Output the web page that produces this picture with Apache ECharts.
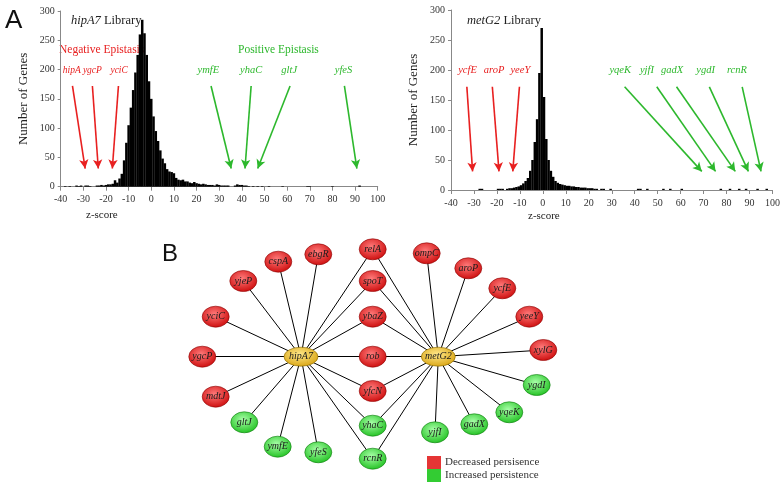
<!DOCTYPE html>
<html><head><meta charset="utf-8">
<script src="https://cdn.jsdelivr.net/npm/echarts@6/dist/echarts.min.js"></script>
<style>html,body{margin:0;padding:0;background:#fff}#c{width:783px;height:484px}</style>
</head><body><div id="c"></div>
<script>
// ---------- Panel A: histogram data ----------
const hipA7Z = [-38,-36,-33,-32,-31,-29,-28,-27,-24,-23,-22,-21,-20,-19,-18,-17,-16,-15,-14,-13,-12,-11,-10,-9,-8,-7,-6,-5,-4,-3,-2,-1,0,1,2,3,4,5,6,7,8,9,10,11,12,13,14,15,16,17,18,19,20,21,22,23,24,25,26,27,28,29,30,31,32,33,34,37,38,39,40,41,42,43,45,47,49,52,58,69,70,80,92];
const hipA7Count = [1,1,2,1,2,2,2,1,2,2,3,2,3,4,4,5,11,7,14,22,45,75,105,135,165,195,225,260,285,262,225,180,150,120,95,78,62,48,40,30,26,25,23,15,12,11,12,9,9,7,6,8,6,5,4,5,4,3,3,3,2,4,3,2,2,2,2,2,4,3,3,2,2,1,1,1,1,1,1,1,1,1,2];
const metG2Z = [-27.5,-26.5,-19.5,-18.5,-17.5,-15.5,-14.5,-13.5,-12.5,-11.5,-10.5,-9.5,-8.5,-7.5,-6.5,-5.5,-4.5,-3.5,-2.5,-1.5,-0.5,0.5,1.5,2.5,3.5,4.5,5.5,6.5,7.5,8.5,9.5,10.5,11.5,12.5,13.5,14.5,15.5,16.5,17.5,18.5,19.5,20.5,21.5,22.5,23.5,25.5,26.5,29.5,41.5,42.5,45.5,52.5,55.5,60.5,77.5,81.5,85.5,88.5,93.5,97.5];
const metG2Count = [2,2,2,2,2,2,3,3,4,5,6,8,11,15,20,32,50,80,118,195,270,155,85,50,32,22,15,12,10,9,8,7,7,6,6,5,5,4,4,4,3,3,3,2,2,2,2,2,2,2,2,2,2,2,2,2,2,2,2,2];
const xMin = -40, xMax = 100, xStep = 10;
const yMin = 0, yMax = 300, yStep = 50;

// ---------- annotations (data units) ----------
const hipA7Genes  = ['hipA','ygcP','yciC','ymfE','yhaC','gltJ','yfeS'];
const hipA7Sign   = ['neg','neg','neg','pos','pos','pos','pos'];
const hipA7LabelZ = [-35.1,-26,-14.2,25.2,44.1,60.9,84.9];
const hipA7FromZ  = [-34.8,-26,-14.5,26.4,44.1,61.3,85.3];
const hipA7ToZ    = [-29.2,-23.4,-17.2,35.3,41.4,47,90.8];
const metG2Genes  = ['ycfE','aroP','yeeY','yqeK','yjfI','gadX','ygdI','rcnR'];
const metG2Sign   = ['neg','neg','neg','pos','pos','pos','pos','pos'];
const metG2LabelZ = [-32.8,-21.2,-9.8,33.7,45.3,56.3,70.9,84.5];
const metG2FromZ  = [-33.1,-22,-10.2,35.6,49.6,58.2,72.5,86.8];
const metG2ToZ    = [-30.6,-19.1,-13.1,69.2,75.2,83.8,89.5,95];
const labelY = 199, arrowFromY = 172, arrowToY = 31;

// ---------- Panel B: network ----------
const nodeNames = ['hipA7','metG2','relA','ebgR','cspA','yjeP','yciC','ygcP','mdtJ','gltJ','ymfE','yfeS','spoT','ybaZ','rob','yfcN','yhaC','rcnR','ompC','aroP','ycfE','yeeY','xylG','ygdI','yqeK','gadX','yjfI'];
const nodeKind  = [2,2,0,0,0,0,0,0,0,1,1,1,0,0,0,0,1,1,0,0,0,0,0,1,1,1,1];
const nodeX = [301,438.3,372.7,318.3,278.3,243.3,215.7,202.3,215.7,244.3,277.7,318.3,372.7,372.7,372.7,372.7,372.7,372.7,426.7,468.3,502.3,529.3,543.3,536.7,509.3,474.3,435];
const nodeY = [356.7,356.7,249.3,254.3,261.7,281,316.7,356.7,396.7,422.3,446.7,452.3,281,316.7,356.7,391,425.7,458.7,253.3,268.3,288.3,316.7,350,385,412.3,424.3,432.3];
const hipA7Links = ['yciC','yjeP','cspA','ebgR','relA','spoT','ybaZ','ygcP','rob','mdtJ','gltJ','ymfE','yfeS','yfcN','yhaC','rcnR'];
const metG2Links = ['relA','spoT','ybaZ','rob','yfcN','yhaC','rcnR','ompC','aroP','ycfE','yeeY','xylG','ygdI','yqeK','gadX','yjfI'];
const kindNames = ['Decreased persisence','Increased persistence','hub'];

const RED = '#e82020', GREEN = '#2db82d';
const serif = 'Liberation Serif';

function grad(c0, c1) {
  return {type:'radial', x:0.45, y:0.38, r:0.65, colorStops:[{offset:0,color:c0},{offset:1,color:c1}]};
}

function histSeries(idx, zs, counts, genes, signs, lz, fz, tz, negSize, posSize) {
  const marks = [];
  const lines = [];
  genes.forEach((g, i) => {
    const neg = signs[i] === 'neg';
    const col = neg ? RED : GREEN;
    marks.push({name:g, coord:[lz[i], labelY], label:{color:col, fontSize: neg ? negSize : posSize}});
    lines.push([{coord:[fz[i], arrowFromY], lineStyle:{color:col}}, {coord:[tz[i], arrowToY]}]);
  });
  return {
    type:'bar', xAxisIndex:idx, yAxisIndex:idx,
    data: zs.map((z, i) => [z, counts[i]]),
    barWidth: 2.5, itemStyle:{color:'#000'}, silent:true,
    markPoint:{symbol:'circle', symbolSize:0, silent:true,
      label:{show:true, position:'inside', formatter:'{b}', fontFamily:serif, fontStyle:'italic', fontSize:10.5},
      data: marks},
    markLine:{silent:true, symbol:['none','arrow'], symbolSize:[7,9], label:{show:false},
      lineStyle:{width:1.6, type:'solid'}, data: lines}
  };
}

function xAx(idx) {
  return {type:'value', gridIndex:idx, min:xMin, max:xMax, interval:xStep,
    axisLine:{show:true, onZero:false, lineStyle:{color:'#888'}},
    axisTick:{show:true, length:4, lineStyle:{color:'#888'}},
    splitLine:{show:false},
    axisLabel:{fontFamily:serif, fontSize:10, color:'#333', margin:8}};
}
function yAx(idx) {
  return {type:'value', gridIndex:idx, min:yMin, max:yMax, interval:yStep,
    name:'Number of Genes', nameLocation:'middle', nameGap:31, nameRotate:90,
    nameTextStyle:{fontFamily:serif, fontSize:13, color:'#222'},
    axisLine:{show:true, onZero:false, lineStyle:{color:'#888'}},
    axisTick:{show:true, length:3, lineStyle:{color:'#888'}},
    splitLine:{show:false},
    axisLabel:{fontFamily:serif, fontSize:10, color:'#333', margin:6}};
}

const nodes = nodeNames.map((n, i) => ({
  name:n, x:nodeX[i], y:nodeY[i], category:nodeKind[i],
  symbolSize: nodeKind[i] === 2 ? [34,19] : [27,21]
}));
const links = hipA7Links.map(t => ({source:'hipA7', target:t}))
  .concat(metG2Links.map(t => ({source:'metG2', target:t})));

const minX = Math.min(...nodeX), maxX = Math.max(...nodeX);
const minY = Math.min(...nodeY), maxY = Math.max(...nodeY);

const option = {
  animation:false,
  backgroundColor:'#fff',
  title:[
    {text:'{i|hipA7} Library', left:66, top:9,
     textStyle:{fontFamily:serif, fontSize:12.5, fontWeight:'normal', color:'#222',
       rich:{i:{fontFamily:serif, fontStyle:'italic', fontSize:12.5, color:'#222'}}}},
    {text:'{i|metG2} Library', left:462, top:9,
     textStyle:{fontFamily:serif, fontSize:12.5, fontWeight:'normal', color:'#222',
       rich:{i:{fontFamily:serif, fontStyle:'italic', fontSize:12.5, color:'#222'}}}}
  ],
  grid:[
    {left:60.7, top:11, width:317, height:175.7},
    {left:451, top:10, width:325.7, height:180}
  ],
  xAxis:[xAx(0), xAx(1)],
  yAxis:[yAx(0), yAx(1)],
  legend:{
    data:[{name:kindNames[0], itemStyle:{color:'#e53535', borderWidth:0}}, {name:kindNames[1], itemStyle:{color:'#33cc33', borderWidth:0}}],
    orient:'vertical', left:427, top:456, height:40, itemWidth:14, itemHeight:13, itemGap:0, icon:'rect',
    selectedMode:false, padding:0,
    textStyle:{fontFamily:serif, fontSize:11, color:'#333', lineHeight:13, padding:[0,0,0,-1]}
  },
  graphic:[
    {type:'text', left:5, top:8, style:{text:'A', font:'26px "Liberation Sans"', fill:'#111'}},
    {type:'text', left:162, top:242, style:{text:'B', font:'24px "Liberation Sans"', fill:'#111'}},
    {type:'text', left:86, top:210, style:{text:'z-score', font:'11px "Liberation Serif"', fill:'#222'}},
    {type:'text', left:528, top:211, style:{text:'z-score', font:'11px "Liberation Serif"', fill:'#222'}},
    {type:'text', left:59, top:44, style:{text:'Negative Epistasis', font:'11.5px "Liberation Serif"', fill:RED}},
    {type:'text', left:238, top:44, style:{text:'Positive Epistasis', font:'11.5px "Liberation Serif"', fill:GREEN}}
  ],
  series:[
    histSeries(0, hipA7Z, hipA7Count, hipA7Genes, hipA7Sign, hipA7LabelZ, hipA7FromZ, hipA7ToZ, 9.5, 10.5),
    histSeries(1, metG2Z, metG2Count, metG2Genes, metG2Sign, metG2LabelZ, metG2FromZ, metG2ToZ, 10.5, 10.5),
    {
      type:'graph', layout:'none', roam:false, silent:true,
      left:minX, top:minY, width:maxX-minX, height:maxY-minY,
      symbol:'circle',
      categories:[
        {name:kindNames[0], itemStyle:{color:grad('#ff7a7a','#cc0a0a'), borderColor:'#8a0000', borderWidth:0.6}},
        {name:kindNames[1], itemStyle:{color:grad('#a8ffa8','#1fc01f'), borderColor:'#0a7a0a', borderWidth:0.6}},
        {name:kindNames[2], itemStyle:{color:grad('#ffe88a','#d9a412'), borderColor:'#8a6a00', borderWidth:0.6}}
      ],
      data:nodes, links:links,
      lineStyle:{color:'#000', width:1, opacity:1, curveness:0},
      label:{show:true, position:'inside', fontFamily:serif, fontStyle:'italic', fontSize:10, color:'#1a1a1a'},
      emphasis:{disabled:true}
    }
  ]
};
echarts.init(document.getElementById('c')).setOption(option);
</script></body></html>
